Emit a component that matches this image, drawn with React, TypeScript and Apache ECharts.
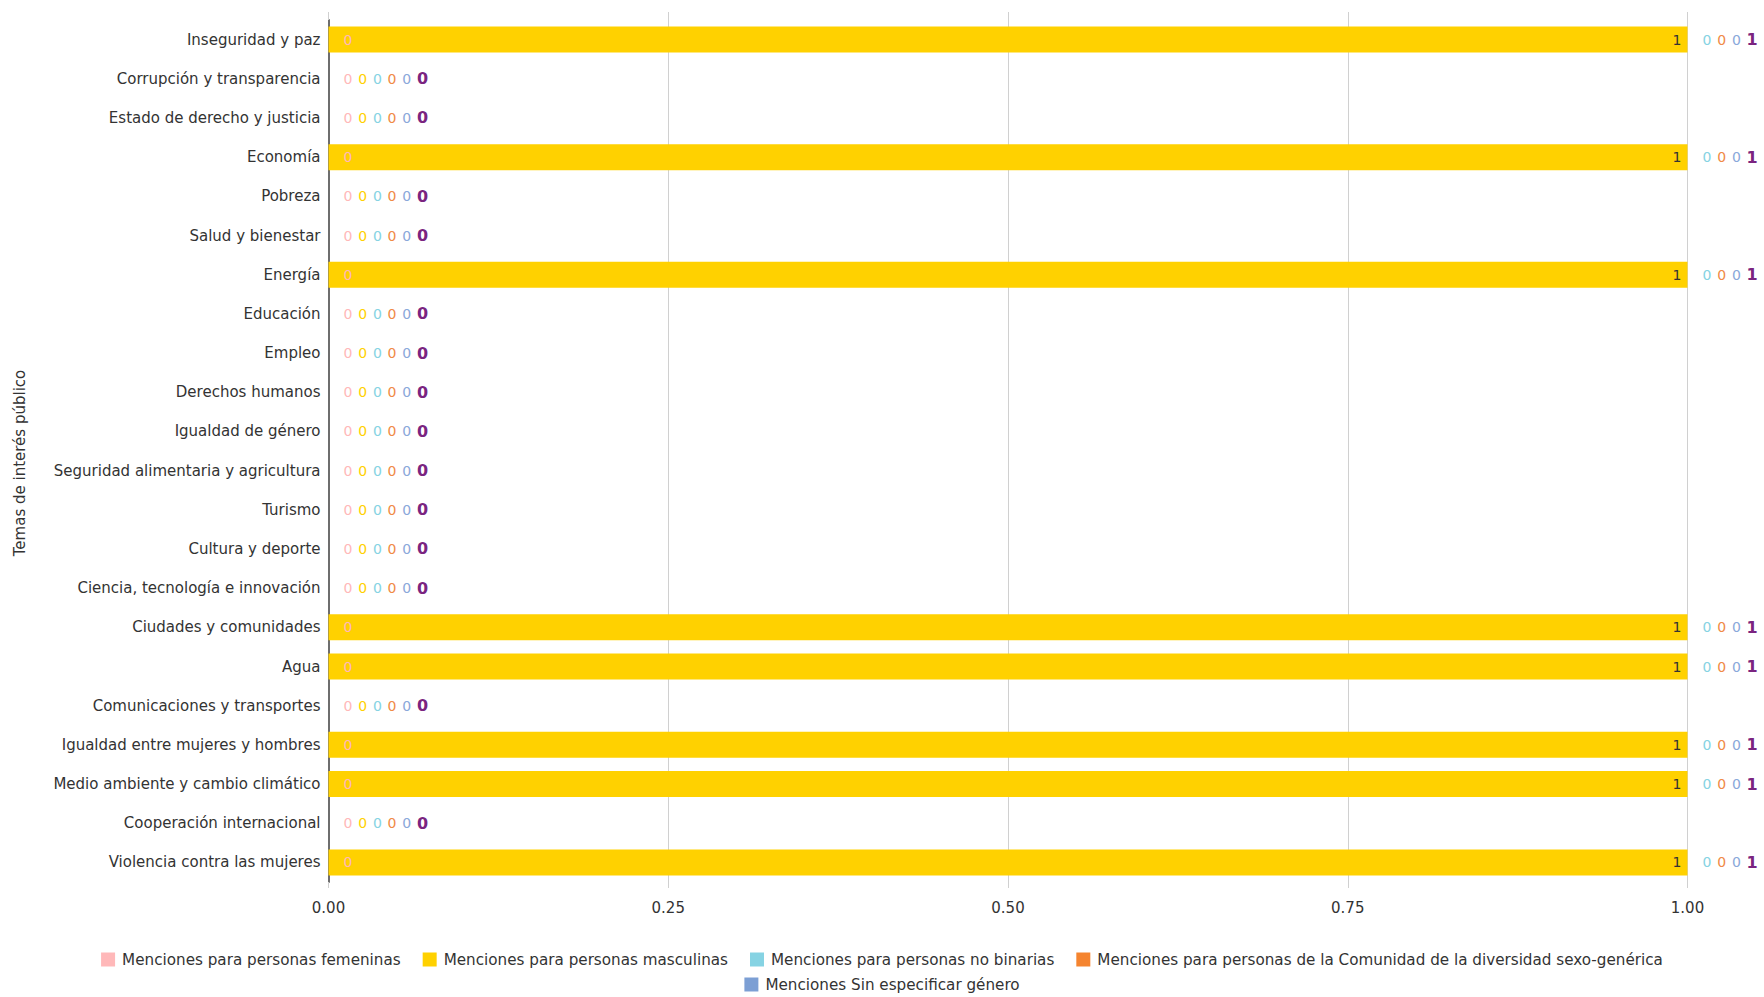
import React, { useEffect, useRef } from "react";
import * as echarts from "echarts";

const categories = [
  "Inseguridad y paz",
  "Corrupción y transparencia",
  "Estado de derecho y justicia",
  "Economía",
  "Pobreza",
  "Salud y bienestar",
  "Energía",
  "Educación",
  "Empleo",
  "Derechos humanos",
  "Igualdad de género",
  "Seguridad alimentaria y agricultura",
  "Turismo",
  "Cultura y deporte",
  "Ciencia, tecnología e innovación",
  "Ciudades y comunidades",
  "Agua",
  "Comunicaciones y transportes",
  "Igualdad entre mujeres y hombres",
  "Medio ambiente y cambio climático",
  "Cooperación internacional",
  "Violencia contra las mujeres",
];

const seriesNames = [
  "Menciones para personas femeninas",
  "Menciones para personas masculinas",
  "Menciones para personas no binarias",
  "Menciones para personas de la Comunidad de la diversidad sexo-genérica",
  "Menciones Sin especificar género",
];

const femeninas = [0, 0, 0, 0, 0, 0, 0, 0, 0, 0, 0, 0, 0, 0, 0, 0, 0, 0, 0, 0, 0, 0];
const masculinas = [1, 0, 0, 1, 0, 0, 1, 0, 0, 0, 0, 0, 0, 0, 0, 1, 1, 0, 1, 1, 0, 1];
const noBinarias = [0, 0, 0, 0, 0, 0, 0, 0, 0, 0, 0, 0, 0, 0, 0, 0, 0, 0, 0, 0, 0, 0];
const diversidad = [0, 0, 0, 0, 0, 0, 0, 0, 0, 0, 0, 0, 0, 0, 0, 0, 0, 0, 0, 0, 0, 0];
const sinEspecificar = [0, 0, 0, 0, 0, 0, 0, 0, 0, 0, 0, 0, 0, 0, 0, 0, 0, 0, 0, 0, 0, 0];

const xTicks = [0, 0.25, 0.5, 0.75, 1];

const colors = ["#FFB8B9", "#FFD100", "#86D3E3", "#F5842F", "#7C9FD4"];
const labelColors = ["#FFB8B9", "#FFD100", "#86D3E3", "#F08A46", "#8AA8DA"];
const totalColor = "#7A2480";
const FONT = "'DejaVu Sans', Verdana, sans-serif";
const STEP = 14.7;

export default function App() {
  const ref = useRef<HTMLDivElement>(null);

  useEffect(() => {
    if (!ref.current) return;
    const chart = echarts.init(ref.current, undefined, { renderer: "svg" });

    const seriesValues = [femeninas, masculinas, noBinarias, diversidad, sinEspecificar];
    const totals = categories.map((_, r) => seriesValues.reduce((s, arr) => s + arr[r], 0));

    const slots: number[][] = seriesValues.map(() => []);
    const totalSlots: number[] = [];
    categories.forEach((_, r) => {
      let cum = 0;
      const counts = new Map<number, number>();
      seriesValues.forEach((arr, i) => {
        cum += arr[r];
        if (arr[r] > 0) {
          slots[i][r] = -1;
          return;
        }
        const k = counts.get(cum) ?? 0;
        slots[i][r] = k;
        counts.set(cum, k + 1);
      });
      totalSlots[r] = counts.get(cum) ?? 0;
    });

    const barSeries: any[] = seriesValues.map((arr, i) => ({
      name: seriesNames[i],
      type: "bar",
      stack: "total",
      barWidth: 26,
      itemStyle: { color: colors[i] },
      label: { show: true, fontFamily: FONT },
      data: arr.map((v, r) => ({
        value: v,
        label:
          slots[i][r] < 0
            ? { show: true, position: "insideRight", distance: 6, color: "#333", fontSize: 14, fontFamily: FONT }
            : {
                show: true,
                position: "right",
                distance: 15,
                offset: [slots[i][r] * STEP, 0],
                color: labelColors[i],
                fontSize: 14,
                fontFamily: FONT,
              },
      })),
    }));

    barSeries.push({
      name: "Total",
      type: "bar",
      stack: "total",
      barWidth: 26,
      itemStyle: { color: "transparent" },
      data: totals.map((_, r) => ({
        value: 0,
        label: {
          show: true,
          position: "right",
          distance: 15,
          offset: [totalSlots[r] * STEP, 0],
          formatter: () => String(totals[r]),
          color: totalColor,
          fontSize: 16,
          fontWeight: "bold",
          fontFamily: FONT,
        },
      })),
    });

    const legendCommon = {
      left: "center",
      orient: "horizontal",
      icon: "rect",
      itemWidth: 14,
      itemHeight: 14,
      itemGap: 22,
      textStyle: { fontSize: 15.2, color: "#333", fontFamily: FONT, padding: [0, 0, 0, 2] },
    };

    chart.setOption({
      animation: false,
      grid: { left: 328.5, right: 76.5, top: 20, bottom: 115, containLabel: false },
      legend: [
        { ...legendCommon, top: 947, data: seriesNames.slice(0, 4) },
        { ...legendCommon, top: 972, data: seriesNames.slice(4) },
      ],
      xAxis: [
        {
          type: "value",
          min: xTicks[0],
          max: xTicks[xTicks.length - 1],
          interval: xTicks[1] - xTicks[0],
          axisLine: { show: false },
          axisTick: { show: true, length: 6, lineStyle: { color: "#d0d0d0" } },
          splitLine: { show: true, lineStyle: { color: "#d0d0d0", width: 1 } },
          axisLabel: {
            margin: 18,
            fontSize: 15,
            color: "#333",
            fontFamily: FONT,
            formatter: (v: number) => v.toFixed(2),
          },
        },
        {
          type: "value",
          position: "top",
          min: xTicks[0],
          max: xTicks[xTicks.length - 1],
          interval: xTicks[1] - xTicks[0],
          axisLine: { show: false },
          axisTick: { show: true, length: 8, lineStyle: { color: "#d0d0d0" } },
          splitLine: { show: false },
          axisLabel: { show: false },
        },
      ],
      yAxis: {
        type: "category",
        inverse: true,
        data: categories,
        axisLine: { show: true, lineStyle: { color: "#6e6e6e", width: 2 } },
        axisTick: { show: false },
        axisLabel: { margin: 8, fontSize: 15, color: "#333", fontFamily: FONT },
      },
      graphic: [
        {
          type: "text",
          x: 20,
          y: 463,
          rotation: Math.PI / 2,
          style: {
            text: "Temas de interés público",
            fontSize: 15,
            fill: "#333",
            fontFamily: FONT,
            textAlign: "center",
            textVerticalAlign: "middle",
          },
        },
      ],
      series: barSeries,
    });

    return () => chart.dispose();
  }, []);

  return (
    <div
      ref={ref}
      style={{ position: "fixed", left: 0, top: 0, width: 1764, height: 997, background: "#fff" }}
    />
  );
}
